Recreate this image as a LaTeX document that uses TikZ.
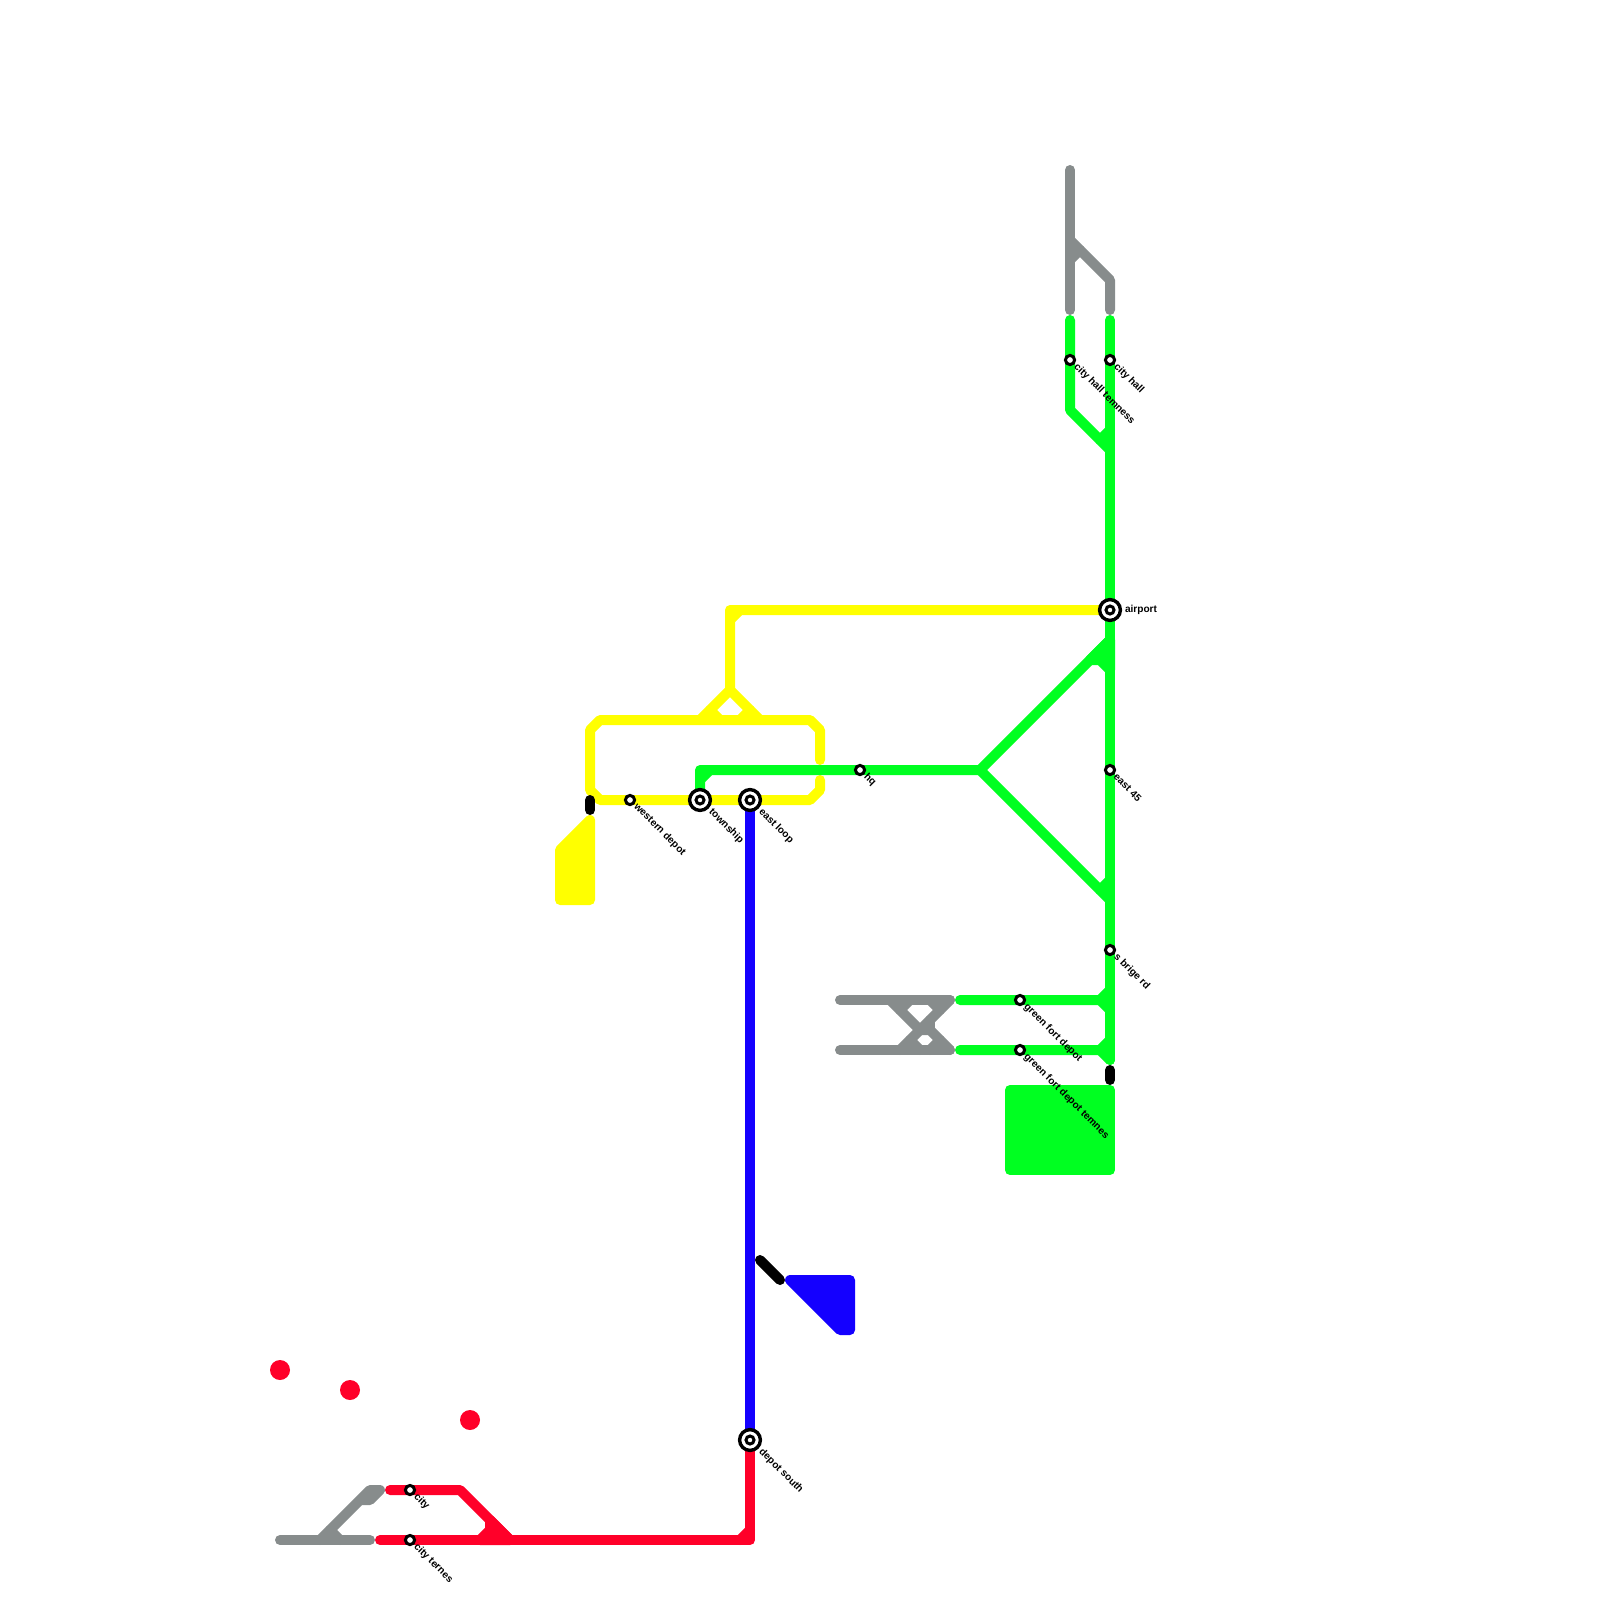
\documentclass[tikz,border=0pt]{standalone}
\usepackage{fontspec}
\setmainfont{Liberation Sans}
\definecolor{lyellow}{HTML}{FFFF00}
\definecolor{lgreen}{HTML}{00FF21}
\definecolor{lgrey}{HTML}{878C8C}
\definecolor{lred}{HTML}{FF0029}
\definecolor{lblue}{HTML}{1400FF}
\tikzset{
 rail/.style={line width=5pt,line cap=round,line join=round},
 yl/.style={rail,draw=lyellow},
 gn/.style={rail,draw=lgreen},
 gy/.style={rail,draw=lgrey},
 rd/.style={rail,draw=lred},
 bl/.style={rail,draw=lblue},
 bk/.style={rail,draw=black},
 stop/.style={circle,draw=black,fill=white,line width=1.5pt,minimum size=4.6pt,inner sep=0pt,outer sep=0pt},
 bigo/.style={circle,draw=black,fill=white,line width=1.7pt,minimum size=10.4pt,inner sep=0pt,outer sep=0pt},
 bigi/.style={circle,draw=black,fill=white,line width=1.5pt,minimum size=4pt,inner sep=0pt,outer sep=0pt},
 lbl/.style={anchor=west,inner sep=0pt,outer sep=0pt,font=\fontsize{5.05pt}{6pt}\selectfont\bfseries,text=black},
 dlbl/.style={lbl,rotate=-45},
}
\begin{document}
\begin{tikzpicture}[x=0.5pt,y=-0.5pt]
\useasboundingbox (0,0) rectangle (1600,1600);
% station positions
\coordinate (airport) at (1110,610);
\coordinate (township) at (700,800);
\coordinate (eastloop) at (750,800);
\coordinate (western) at (630,800);
\coordinate (hq) at (860,770);
\coordinate (east45) at (1110,770);
\coordinate (sbrige) at (1110,950);
\coordinate (gfd) at (1020,1000);
\coordinate (gfdt) at (1020,1050);
\coordinate (cityhall) at (1110,360);
\coordinate (cityhallt) at (1070,360);
\coordinate (city) at (410,1490);
\coordinate (cityt) at (410,1540);
\coordinate (depot) at (750,1440);
% yellow
\draw[yl] (airport) -- (730,610) -- (730,690) -- (700,720);
\draw[yl] (730,690) -- (760,720);
\draw[yl] (730,620) -- (740,610);
\draw[yl] (710,710) -- (720,720);
\draw[yl] (740,720) -- (750,710);
\draw[yl] (820,760) -- (820,730) -- (810,720) -- (600,720) -- (590,730) -- (590,790) -- (600,800) -- (810,800) -- (820,790) -- (820,780);
\draw[yl,fill=lyellow] (590,820) -- (560,850) -- (560,900) -- (590,900) -- cycle;
% green
\draw[gn] (1110,320) -- (1110,1060);
\draw[gn] (1070,320) -- (1070,410) -- (1110,450);
\draw[gn] (1100,440) -- (1110,430);
\draw[gn] (township) -- (700,770) -- (980,770) -- (1110,640);
\draw[gn] (700,780) -- (710,770);
\draw[gn,fill=lgreen] (1090,660) -- (1110,640) -- (1110,670) -- (1100,660) -- cycle;
\draw[gn] (980,770) -- (1110,900);
\draw[gn] (1100,890) -- (1110,880);
\draw[gn] (960,1000) -- (1100,1000) -- (1110,990);
\draw[gn] (1100,1000) -- (1110,1010);
\draw[gn] (960,1050) -- (1100,1050) -- (1110,1040);
\draw[gn] (1100,1050) -- (1110,1060);
\draw[gn,fill=lgreen] (1010,1090) -- (1110,1090) -- (1110,1170) -- (1010,1170) -- cycle;
% grey
\draw[gy] (1070,170) -- (1070,310);
\draw[gy] (1070,240) -- (1110,280) -- (1110,310);
\draw[gy] (1070,260) -- (1080,250);
\draw[gy] (840,1000) -- (950,1000);
\draw[gy] (840,1050) -- (950,1050);
\draw[gy] (890,1000) -- (920,1030) -- (900,1050);
\draw[gy] (950,1000) -- (920,1030) -- (930,1030) -- (950,1050);
\draw[gy] (930,1020) -- (930,1030);
\draw[gy] (910,1000) -- (900,1010);
\draw[gy] (930,1000) -- (940,1010);
\draw[gy] (910,1040) -- (920,1050);
\draw[gy] (930,1050) -- (940,1040);
\draw[gy] (280,1540) -- (370,1540);
\draw[gy] (320,1540) -- (370,1490) -- (380,1490) -- (370,1500) -- (360,1500);
\draw[gy] (330,1530) -- (340,1540);
% red
\draw[rd] (depot) -- (750,1540) -- (380,1540);
\draw[rd] (740,1540) -- (750,1530);
\draw[rd] (390,1490) -- (460,1490) -- (510,1540);
\draw[rd,fill=lred] (490,1520) -- (510,1540) -- (480,1540) -- (490,1530) -- cycle;
\fill[lred] (280,1370) circle[radius=10];
\fill[lred] (350,1390) circle[radius=10];
\fill[lred] (470,1420) circle[radius=10];
% blue
\draw[bl] (eastloop) -- (depot);
\draw[bl,fill=lblue] (790,1280) -- (850,1280) -- (850,1330) -- (840,1330) -- cycle;
% black blocks
\draw[bk] (590,800) -- (590,810);
\draw[bk] (1110,1070) -- (1110,1080);
\draw[bk] (760,1260) -- (780,1280);
% stations
\node[bigo] (airportO) at (airport) {}; \node[bigi] (airportI) at (airport) {};
\node[bigo] (townshipO) at (township) {}; \node[bigi] (townshipI) at (township) {};
\node[bigo] (eastloopO) at (eastloop) {}; \node[bigi] (eastloopI) at (eastloop) {};
\node[bigo] (depotO) at (depot) {}; \node[bigi] (depotI) at (depot) {};
\node[stop] (westernS) at (western) {};
\node[stop] (hqS) at (hq) {};
\node[stop] (east45S) at (east45) {};
\node[stop] (sbrigeS) at (sbrige) {};
\node[stop] (gfdS) at (gfd) {};
\node[stop] (gfdtS) at (gfdt) {};
\node[stop] (cityhallS) at (cityhall) {};
\node[stop] (cityhalltS) at (cityhallt) {};
\node[stop] (cityS) at (city) {};
\node[stop] (citytS) at (cityt) {};
% labels
\node[lbl] (airportL) at (1125,610) {airport};
\node[dlbl] (townshipL) at (710.5,810.5) {township};
\node[dlbl] (eastloopL) at (760.5,810.5) {east loop};
\node[dlbl] (depotL) at (760.5,1450.5) {depot south};
\node[dlbl] (westernL) at (635.5,805.5) {western depot};
\node[dlbl] (hqL) at (865.5,775.5) {hq};
\node[dlbl] (east45L) at (1115.5,775.5) {east 45};
\node[dlbl] (sbrigeL) at (1115.5,955.5) {s brige rd};
\node[dlbl] (gfdL) at (1025.5,1005.5) {green fort depot};
\node[dlbl] (gfdtL) at (1025.5,1055.5) {green fort depot temnes};
\node[dlbl] (cityhallL) at (1115.5,365.5) {city hall};
\node[dlbl] (cityhalltL) at (1075.5,365.5) {city hall temness};
\node[dlbl] (cityL) at (415.5,1495.5) {city};
\node[dlbl] (citytL) at (415.5,1545.5) {city ternes};
\end{tikzpicture}
\end{document}
